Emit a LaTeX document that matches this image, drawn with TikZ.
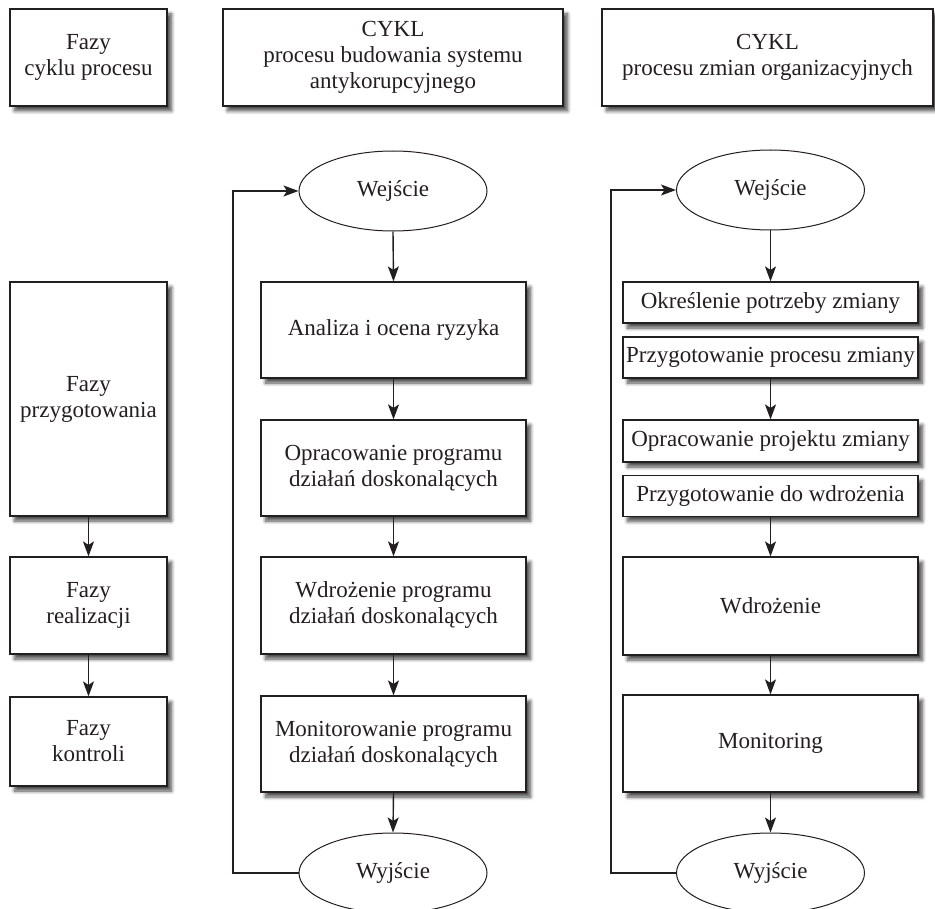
\documentclass[tikz,border=0pt]{standalone}
\usepackage{fontspec}
\setmainfont{Liberation Serif}
\usetikzlibrary{arrows.meta,shapes.geometric,shadows.blur}
\definecolor{ink}{HTML}{231F20}
\tikzset{
  txt/.style={font=\rmfamily\fontsize{23}{26}\selectfont, text=ink, align=center},
  box/.style={txt, draw=ink, line width=1.2pt, fill=white, rectangle, inner sep=0pt,
    blur shadow={shadow xshift=4.5pt, shadow yshift=-5pt, shadow blur steps=8, shadow blur radius=3.5pt, shadow opacity=70}},
  oval/.style={txt, draw=ink, line width=1pt, fill=white, ellipse, inner sep=0pt,
    minimum width=188pt, minimum height=80pt},
  arr/.style={draw=ink, line width=1.4pt, -{Stealth[length=15pt,width=11pt,inset=3.5pt]}}
}
\begin{document}
\begin{tikzpicture}[x=1pt,y=-1pt]
\useasboundingbox (0,0) rectangle (935,909);
% headers
\node[box, minimum width=157pt, minimum height=97pt] (h1) at (88.5,57.5) {Fazy\\cyklu procesu};
\node[box, minimum width=340pt, minimum height=97pt] (h2) at (393,57.5) {CYKL\\procesu budowania systemu\\antykorupcyjnego};
\node[box, minimum width=331pt, minimum height=97pt] (h3) at (767.5,57.5) {CYKL\\procesu zmian organizacyjnych};
% left column
\node[box, minimum width=157pt, minimum height=234pt] (lp) at (88.5,399) {Fazy\\przygotowania};
\node[box, minimum width=157pt, minimum height=97pt] (lr) at (88.5,605.5) {Fazy\\realizacji};
\node[box, minimum width=157pt, minimum height=89pt] (lk) at (88.5,741.5) {Fazy\\kontroli};
\draw[arr] (lp.south) -- (lr.north);
\draw[arr] (lr.south) -- (lk.north);
% middle column
\node[oval] (we1) at (393,191) {Wejście};
\node[box, minimum width=265pt, minimum height=96pt] (m1) at (393.5,330) {Analiza i ocena ryzyka};
\node[box, minimum width=265pt, minimum height=96pt] (m2) at (393.5,468) {Opracowanie programu\\działań doskonalących};
\node[box, minimum width=265pt, minimum height=97pt] (m3) at (393.5,605.5) {Wdrożenie programu\\działań doskonalących};
\node[box, minimum width=265pt, minimum height=96pt] (m4) at (393.5,744) {Monitorowanie programu\\działań doskonalących};
\node[oval] (wy1) at (393,873) {Wyjście};
\draw[arr] (we1.south) -- (m1.north);
\draw[arr] (m1.south) -- (m2.north);
\draw[arr] (m2.south) -- (m3.north);
\draw[arr] (m3.south) -- (m4.north);
\draw[arr] (m4.south) -- (wy1.north);
\coordinate (c1) at (233,873);
\draw[arr] (wy1.west) -- (c1) |- (we1.west);
% right column
\node[oval] (we2) at (770.5,190) {Wejście};
\node[box, minimum width=295pt, minimum height=41pt] (r1) at (770.5,302.5) {Określenie potrzeby zmiany};
\node[box, minimum width=295pt, minimum height=41pt] (r2) at (770.5,357.5) {Przygotowanie procesu zmiany};
\node[box, minimum width=295pt, minimum height=42pt] (r3) at (770.5,441) {Opracowanie projektu zmiany};
\node[box, minimum width=295pt, minimum height=41pt] (r4) at (770.5,496) {Przygotowanie do wdrożenia};
\node[box, minimum width=295pt, minimum height=98pt] (r5) at (770.5,606) {Wdrożenie};
\node[box, minimum width=295pt, minimum height=97pt] (r6) at (770.5,743.5) {Monitoring};
\node[oval] (wy2) at (770.5,873) {Wyjście};
\draw[arr] (we2.south) -- (r1.north);
\draw[arr] (r2.south) -- (r3.north);
\draw[arr] (r4.south) -- (r5.north);
\draw[arr] (r5.south) -- (r6.north);
\draw[arr] (r6.south) -- (wy2.north);
\coordinate (c2) at (611,873);
\draw[arr] (wy2.west) -- (c2) |- (we2.west);
\end{tikzpicture}
\end{document}
